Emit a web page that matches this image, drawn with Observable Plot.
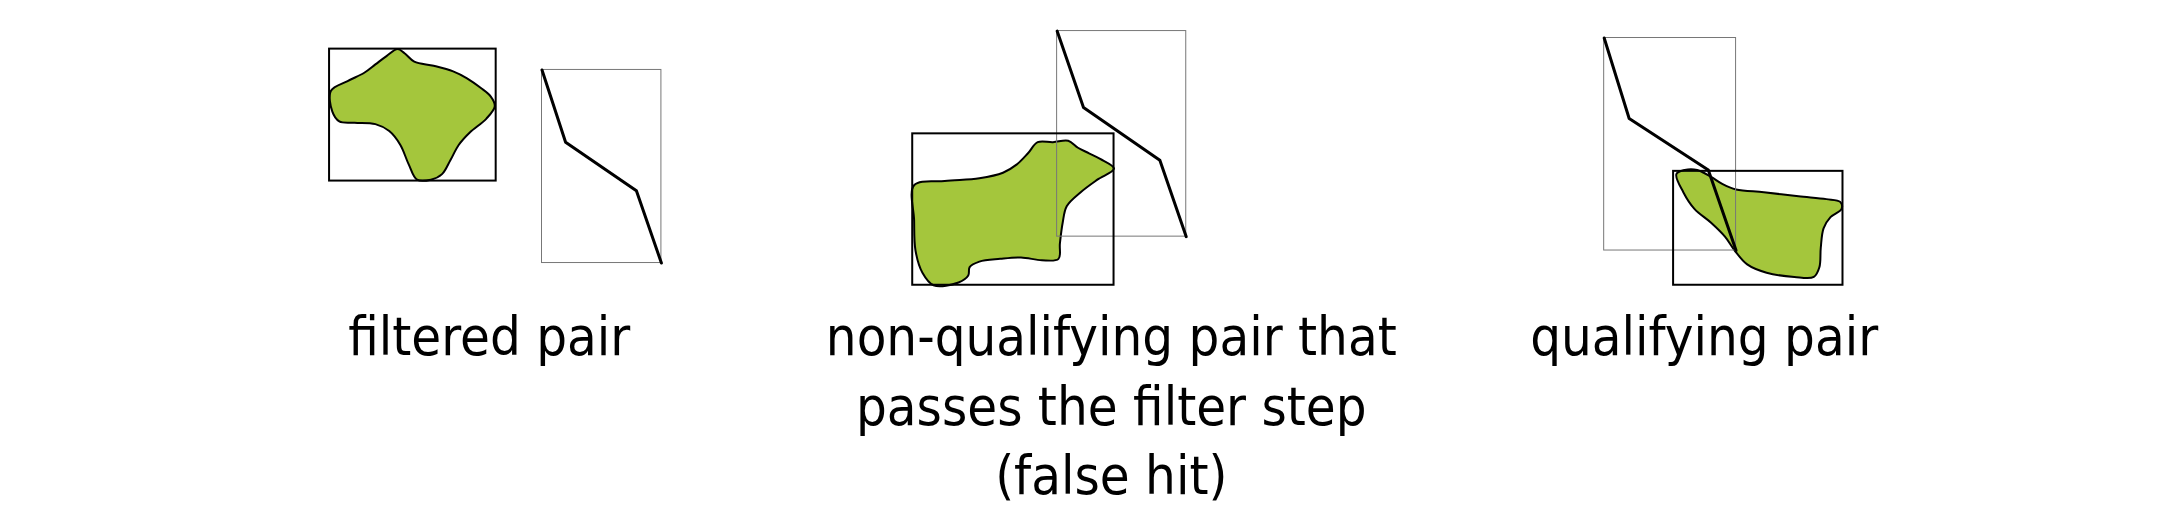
<!DOCTYPE html>
<html><head><meta charset="utf-8">
<script src="https://cdn.jsdelivr.net/npm/d3@7"></script>
<script src="https://cdn.jsdelivr.net/npm/@observablehq/plot@0.6"></script>
<style>body{margin:0;background:#fff}</style>
</head><body><div id="c"></div>
<script>
const boldBoxes = [{x1:237,y1:35,x2:357,y2:130},{x1:657,y1:96,x2:802,y2:205},{x1:1205,y1:123,x2:1327,y2:205}];
const thinBoxes = [{x1:390,y1:50,x2:476,y2:189},{x1:761,y1:22,x2:854,y2:170},{x1:1155,y1:27,x2:1250,y2:180}];
const blob1 = [[238,65],[250,58],[262,52],[270,46],[278,40],[286,35],[291,38],[298,44],[312,47],[326,51],[336,56],[346,63],[353,69],[356,76],[350,85],[338,95],[330,104],[324,115],[318,125],[310,129],[300,129],[294,118],[288,104],[280,94],[270,89],[255,88],[244,87],[239,80]];
const blob2 = [[658,133],[680,130],[705,128],[722,124],[732,118],[740,110],[747,102],[758,102],[769,101],[776,106],[784,110],[792,114],[802,121],[790,129],[778,138],[768,148],[765,160],[763,175],[762,186],[750,187],[735,185],[720,186],[705,188],[698,192],[697,198],[690,203],[672,205],[664,196],[659,180],[658,158]];
const blob3 = [[1207,125],[1213,122],[1222,122],[1232,127],[1240,132],[1250,136],[1270,138],[1295,141],[1315,143],[1325,145],[1326,150],[1318,156],[1313,164],[1311,178],[1310,192],[1306,199],[1292,199],[1272,196],[1258,190],[1249,180],[1242,170],[1232,160],[1220,150],[1212,138]];
const lines = [[[390,50],[407,102],[458,137],[476,189]],[[761,22],[780,77],[835,115],[854,170]],[[1155,27],[1173,85],[1230,122],[1250,180]]];
const labels = [{x:352,y:243,t:"filtered pair"},{x:800,y:243,t:"non-qualifying pair that"},{x:800,y:293,t:"passes the filter step"},{x:800,y:343,t:"(false hit)"},{x:1227,y:243,t:"qualifying pair"}];

const blobs = [blob1,blob2,blob3].flatMap((b,i)=>b.map(p=>({x:p[0],y:p[1],k:i})));
const pl = lines.flatMap((b,i)=>b.map(p=>({x:p[0],y:p[1],k:i})));
const chart = Plot.plot({
  width:2166,height:532,margin:0,
  x:{domain:[0,1560],axis:null},y:{domain:[0,383],reverse:true,axis:null},
  marks:[
    Plot.line(blobs,{x:"x",y:"y",z:"k",curve:"catmull-rom-closed",fill:"#a4c63c",stroke:"#000",strokeWidth:2}),
    Plot.rect(thinBoxes,{x1:"x1",x2:"x2",y1:"y1",y2:"y2",fill:"none",stroke:"#777",strokeWidth:1}),
    Plot.rect(boldBoxes,{x1:"x1",x2:"x2",y1:"y1",y2:"y2",fill:"none",stroke:"#000",strokeWidth:2}),
    Plot.line(pl,{x:"x",y:"y",z:"k",stroke:"#000",strokeWidth:3}),
    Plot.text(labels,{x:"x",y:"y",text:"t",fontSize:54,fill:"#000",fontFamily:"DejaVu Sans Condensed, DejaVu Sans"})
  ]
});
document.getElementById("c").append(chart);
</script></body></html>
